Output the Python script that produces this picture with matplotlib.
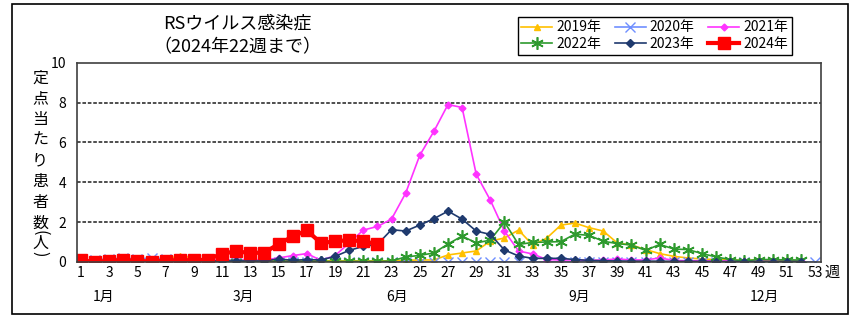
# RSウイルス感染症 定点当たり患者数 週別推移
import matplotlib
matplotlib.use('Agg')
import matplotlib.pyplot as plt
from matplotlib.patches import Rectangle
from matplotlib.transforms import blended_transform_factory

plt.rcParams['font.family'] = ['Noto Sans CJK JP', 'DejaVu Sans']
narrow = ['Liberation Sans Narrow', 'Noto Sans CJK JP', 'DejaVu Sans']

# 週ごとの定点当たり報告数
y2019 = [0.05, 0.1, 0.08, 0.1, 0.12, 0.15, 0.15, 0.3, 0.2, 0.1,
         0.08, 0.1, 0.08, 0.05, 0.05, 0.05, 0.05, 0.05, 0.05, 0.05,
         0.05, 0.05, 0.05, 0.08, 0.1, 0.1,
         0.35, 0.45, 0.55, 1.05, 1.2, 1.6, 0.85, 1.2,
         1.85, 1.95, 1.72, 1.55, 0.95, 0.85, 0.62,
         0.42, 0.28, 0.2, 0.15, 0.12, 0.1, 0.08, 0.1, 0.08, 0.08, 0.06]
y2020 = [0.1, 0.12, 0.15, 0.2, 0.15, 0.2, 0.15, 0.15, 0.1, 0.05, 0.02, 0.01] + [0.0] * 41
y2021 = [0.05, 0.05, 0.05, 0.05, 0.05, 0.05, 0.05, 0.05, 0.05, 0.08, 0.1, 0.1, 0.12, 0.1,
         0.2, 0.32, 0.42, 0.08, 0.32, 0.95, 1.6, 1.78,
         2.15, 3.45, 5.35, 6.55, 7.9, 7.75, 4.4, 3.1, 1.55, 0.55, 0.4, 0.12,
         0.1, 0.1, 0.08, 0.1, 0.15, 0.1, 0.1, 0.2, 0.08, 0.06, 0.06, 0.05, 0.05, 0.04,
         0.04, 0.03, 0.03, 0.03]
y2022 = [0.02] * 18 + [0.03, 0.03, 0.03, 0.03, 0.05,
         0.25, 0.33, 0.45, 0.9, 1.3, 0.95, 1.1, 2.0, 0.88, 0.98, 1.0,
         1.02, 1.4, 1.33, 1.04, 0.92, 0.85, 0.58, 0.88, 0.65, 0.62, 0.42, 0.25,
         0.12, 0.06, 0.12, 0.12, 0.1, 0.1]
y2023 = [0.02, 0.02, 0.02, 0.02, 0.02, 0.02, 0.02, 0.02, 0.03, 0.05,
         0.05, 0.05, 0.05, 0.05, 0.15, 0.08, 0.12,
         0.1, 0.28, 0.58, 0.78, 0.88,
         1.62, 1.55, 1.85, 2.17, 2.55, 2.15, 1.55, 1.38, 0.6, 0.3, 0.18, 0.18,
         0.18, 0.12, 0.08, 0.06, 0.05, 0.04, 0.04, 0.04, 0.03, 0.03, 0.03, 0.02,
         0.02, 0.02, 0.02, 0.02, 0.02, 0.02]
y2024 = [0.08, 0.0, 0.06, 0.1, 0.05, 0.02, 0.06, 0.1, 0.08, 0.12, 0.42,
         0.53, 0.45, 0.47, 0.9, 1.28, 1.58, 0.95, 1.03, 1.1, 1.03, 0.9]

months = ['1月', '3月', '6月', '9月', '12月']
month_pos = [2.6, 12.5, 23.4, 36.3, 49.4]

fig = plt.figure(figsize=(8.56, 3.23), dpi=100)
ax = fig.add_axes([0.090, 0.189, 0.869, 0.617])

def weeks(v):
    return list(range(1, len(v) + 1))

l19, = ax.plot(weeks(y2019), y2019, color='#FFC000', lw=1.2, marker='^', ms=5, label='2019年')
l20, = ax.plot(weeks(y2020), y2020, color='#6F8FFF', lw=1.2, marker='x', ms=7, mew=1, label='2020年')
l21, = ax.plot(weeks(y2021), y2021, color='#FF33FF', lw=1.2, marker='D', ms=3.5, label='2021年')
l22, = ax.plot(weeks(y2022), y2022, color='#2E9A2E', lw=1.2, marker=(6, 2, 0), ms=9, mew=1.2, label='2022年')
l23, = ax.plot(weeks(y2023), y2023, color='#1F3A6E', lw=1.2, marker='D', ms=4, label='2023年')
l24, = ax.plot(weeks(y2024), y2024, color='#FF0000', lw=3, marker='s', ms=8, label='2024年')

ax.set_xlim(0.72, 53.42)
ax.set_ylim(0, 10)
ax.set_yticks(range(0, 11, 2))
ax.set_xticks(range(1, 54, 2))
ax.tick_params(length=0)
ax.tick_params(axis='y', pad=8)
ax.tick_params(axis='x', pad=3)
for lab in ax.get_xticklabels() + ax.get_yticklabels():
    lab.set_family(narrow)
    lab.set_fontsize(10)
for y in range(2, 10, 2):
    ax.axhline(y, color='#404040', lw=1.3, ls=(0, (2, 1)), zorder=0)
for s in ax.spines.values():
    s.set_color('#404040')
    s.set_linewidth(1.2)

tr = blended_transform_factory(ax.transData, ax.transAxes)
for m, p in zip(months, month_pos):
    ax.text(p, -0.175, m, transform=tr, ha='center', va='center', fontsize=10, family=narrow)
ax.text(54.2, -0.05, '週', transform=tr, ha='center', va='center', fontsize=11)

# 縦書きの軸ラベル（括弧は回転して縦向きにする）
ylabel_chars = '定点当たり患者数'
for i, ch in enumerate(ylabel_chars):
    fig.text(40 / 856, 1 - (78 + i * 20.7) / 323, ch, ha='center', va='center', fontsize=11.5)
for ch, yp, rot in [('(', 233, -90), ('人', 243, 0), (')', 254, -90)]:
    fig.text(40 / 856, 1 - yp / 323, ch, ha='center', va='center', fontsize=11.5, rotation=rot)

fig.text(237 / 856, 1 - 23 / 323, 'RSウイルス感染症', ha='center', va='center', fontsize=13)
fig.text(237 / 856, 1 - 47 / 323, '（2024年22週まで）', ha='center', va='center', fontsize=13)

leg = fig.legend([l19, l22, l20, l23, l21, l24],
                 ['2019年', '2022年', '2020年', '2023年', '2021年', '2024年'],
                 ncol=3, loc='upper left', bbox_to_anchor=(518 / 856, 1 - 17 / 323),
                 frameon=True, fancybox=False, edgecolor='black', framealpha=1,
                 handlelength=2.2, columnspacing=1.0, handletextpad=0.3,
                 borderpad=0.25, labelspacing=0.2, borderaxespad=0,
                 prop={'family': narrow, 'size': 10})
leg.get_frame().set_linewidth(1)

# 外枠
fig.patches.append(Rectangle((12 / 856, 1 - 314 / 323), 836 / 856, 310 / 323,
                             transform=fig.transFigure, fill=False,
                             edgecolor='black', lw=1.2))

fig.savefig('out.png', dpi=100)
